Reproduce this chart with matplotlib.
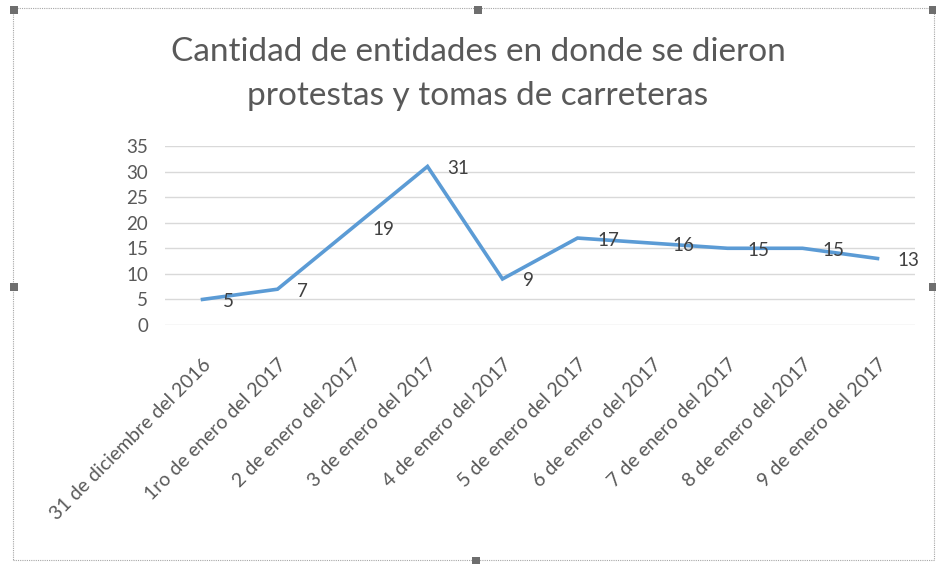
import matplotlib
matplotlib.use('Agg')
from matplotlib import pyplot as plt
from matplotlib.patches import Rectangle


fechas = [
    '31 de diciembre del 2016', '1ro de enero del 2017', '2 de enero del 2017',
    '3 de enero del 2017', '4 de enero del 2017', '5 de enero del 2017',
    '6 de enero del 2017', '7 de enero del 2017', '8 de enero del 2017',
    '9 de enero del 2017',
]
entidades = [5, 7, 19, 31, 9, 17, 16, 15, 15, 13]
y_ticks = [0, 5, 10, 15, 20, 25, 30, 35]

W, H = 936, 564
GRIS = '#595959'

plt.rcParams['font.family'] = ['Lato', 'DejaVu Sans']

fig = plt.figure(figsize=(W / 100, H / 100), dpi=100)
ax = fig.add_axes([165 / W, 239 / H, 750 / W, 179 / H])

x = list(range(len(fechas)))
ax.plot(x, entidades, color='#5B9BD5', linewidth=2.6, solid_joinstyle='miter')

for xi, v in zip(x, entidades):
    ax.annotate(str(v), (xi, v), xytext=(20, -2), textcoords='offset pixels',
                ha='left', va='center', fontsize=13.5, color='#404040')

ax.set_xlim(-0.5, len(fechas) - 0.5)
ax.set_ylim(0, 35)
ax.set_yticks(y_ticks)
ax.set_xticks(x)
ax.set_xticklabels(fechas, rotation=45, ha='right', rotation_mode='anchor',
                   fontsize=14, color=GRIS)
ax.tick_params(axis='y', labelsize=13.5, labelcolor=GRIS, length=0, pad=12)
ax.tick_params(axis='x', length=0, pad=22)
ax.grid(axis='y', color='#D9D9D9', linewidth=1)
ax.set_axisbelow(True)
for s in ax.spines.values():
    s.set_visible(False)

fig.text(478 / W, 1 - 52 / H, 'Cantidad de entidades en donde se dieron',
         ha='center', va='center', fontsize=24, color=GRIS)
fig.text(478 / W, 1 - 96 / H, 'protestas y tomas de carreteras',
         ha='center', va='center', fontsize=24, color=GRIS)

# marco punteado de seleccion con sus asas
fig.patches.append(Rectangle((13 / W, 4 / H), 921 / W, 552 / H, fill=False,
                             edgecolor='#A6A6A6', linestyle=(0, (1, 1)),
                             linewidth=0.8, transform=fig.transFigure))
for hx, hy in [(14, 10), (478, 10), (933, 10), (14, 287), (933, 287),
               (476, 561)]:
    fig.patches.append(Rectangle(((hx - 4) / W, 1 - (hy + 4) / H), 8 / W, 8 / H,
                                 facecolor='#6E6E6E', edgecolor='none',
                                 transform=fig.transFigure))

fig.savefig('out.png', dpi=100)
